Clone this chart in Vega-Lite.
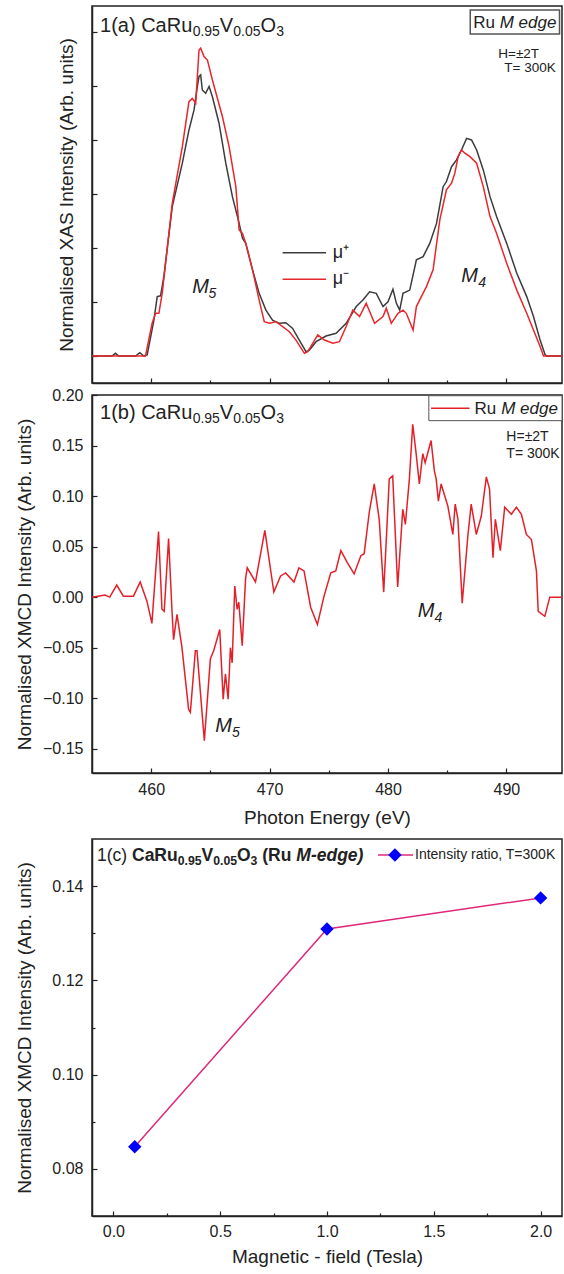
{
  "$schema": "https://vega.github.io/schema/vega-lite/v6.json",
  "padding": {"left": 14, "top": 5, "right": 0, "bottom": 0},
  "background": "white",
  "config": {
    "view": {"stroke": "#222", "strokeWidth": 1.5},
    "axis": {"grid": false, "domainColor": "#222", "domainWidth": 1.5, "tickColor": "#222", "tickWidth": 1.2, "tickSize": -5, "labelFont": "Liberation Sans", "labelFontSize": 16, "labelColor": "#222", "titleFont": "Liberation Sans", "titleFontSize": 19, "titleFontWeight": "normal", "titleColor": "#222"},
    "axisX": {"labelPadding": 13},
    "axisY": {"labelPadding": 14},
    "text": {"font": "Liberation Sans", "color": "#222"}
  },
  "datasets": {
    "xas": [
      {"E":455.00,"I":0,"pol":"μ+"},{"E":456.69,"I":0,"pol":"μ+"},{"E":456.98,"I":0.010,"pol":"μ+"},{"E":457.26,"I":0,"pol":"μ+"},{"E":458.67,"I":0,"pol":"μ+"},{"E":459.04,"I":0.012,"pol":"μ+"},{"E":459.38,"I":0,"pol":"μ+"},{"E":459.66,"I":0.004,"pol":"μ+"},{"E":460.23,"I":0.133,"pol":"μ+"},{"E":460.51,"I":0.220,"pol":"μ+"},{"E":460.79,"I":0.223,"pol":"μ+"},{"E":461.07,"I":0.294,"pol":"μ+"},{"E":461.78,"I":0.553,"pol":"μ+"},{"E":462.63,"I":0.714,"pol":"μ+"},{"E":463.19,"I":0.837,"pol":"μ+"},{"E":463.62,"I":0.911,"pol":"μ+"},{"E":463.90,"I":0.998,"pol":"μ+"},{"E":464.04,"I":1.035,"pol":"μ+"},{"E":464.18,"I":1.041,"pol":"μ+"},{"E":464.32,"I":0.985,"pol":"μ+"},{"E":464.60,"I":0.973,"pol":"μ+"},{"E":464.89,"I":0.998,"pol":"μ+"},{"E":465.17,"I":0.960,"pol":"μ+"},{"E":465.73,"I":0.862,"pol":"μ+"},{"E":466.30,"I":0.714,"pol":"μ+"},{"E":466.86,"I":0.590,"pol":"μ+"},{"E":467.43,"I":0.491,"pol":"μ+"},{"E":467.71,"I":0.436,"pol":"μ+"},{"E":467.99,"I":0.417,"pol":"μ+"},{"E":468.56,"I":0.319,"pol":"μ+"},{"E":469.12,"I":0.232,"pol":"μ+"},{"E":469.69,"I":0.170,"pol":"μ+"},{"E":470.25,"I":0.133,"pol":"μ+"},{"E":470.82,"I":0.121,"pol":"μ+"},{"E":471.38,"I":0.123,"pol":"μ+"},{"E":471.95,"I":0.102,"pol":"μ+"},{"E":472.51,"I":0.059,"pol":"μ+"},{"E":473.08,"I":0.016,"pol":"μ+"},{"E":473.36,"I":0.022,"pol":"μ+"},{"E":473.93,"I":0.053,"pol":"μ+"},{"E":474.77,"I":0.074,"pol":"μ+"},{"E":475.62,"I":0.084,"pol":"μ+"},{"E":476.47,"I":0.121,"pol":"μ+"},{"E":477.32,"I":0.183,"pol":"μ+"},{"E":477.88,"I":0.207,"pol":"μ+"},{"E":478.45,"I":0.238,"pol":"μ+"},{"E":479.01,"I":0.232,"pol":"μ+"},{"E":479.58,"I":0.183,"pol":"μ+"},{"E":480.00,"I":0.201,"pol":"μ+"},{"E":480.42,"I":0.247,"pol":"μ+"},{"E":480.71,"I":0.195,"pol":"μ+"},{"E":480.99,"I":0.170,"pol":"μ+"},{"E":481.27,"I":0.232,"pol":"μ+"},{"E":481.84,"I":0.244,"pol":"μ+"},{"E":482.40,"I":0.356,"pol":"μ+"},{"E":482.97,"I":0.368,"pol":"μ+"},{"E":483.53,"I":0.417,"pol":"μ+"},{"E":484.10,"I":0.491,"pol":"μ+"},{"E":484.66,"I":0.627,"pol":"μ+"},{"E":484.94,"I":0.646,"pol":"μ+"},{"E":485.37,"I":0.701,"pol":"μ+"},{"E":485.79,"I":0.726,"pol":"μ+"},{"E":486.21,"I":0.763,"pol":"μ+"},{"E":486.64,"I":0.806,"pol":"μ+"},{"E":487.06,"I":0.800,"pol":"μ+"},{"E":487.49,"I":0.763,"pol":"μ+"},{"E":488.05,"I":0.689,"pol":"μ+"},{"E":488.62,"I":0.590,"pol":"μ+"},{"E":489.18,"I":0.516,"pol":"μ+"},{"E":490.03,"I":0.417,"pol":"μ+"},{"E":490.88,"I":0.306,"pol":"μ+"},{"E":491.72,"I":0.220,"pol":"μ+"},{"E":492.29,"I":0.146,"pol":"μ+"},{"E":492.85,"I":0.059,"pol":"μ+"},{"E":493.28,"I":0.004,"pol":"μ+"},{"E":493.42,"I":0,"pol":"μ+"},{"E":494.70,"I":0,"pol":"μ+"},
      {"E":455.00,"I":0,"pol":"μ-"},{"E":459.52,"I":0,"pol":"μ-"},{"E":460.08,"I":0.121,"pol":"μ-"},{"E":460.37,"I":0.158,"pol":"μ-"},{"E":460.65,"I":0.158,"pol":"μ-"},{"E":460.93,"I":0.232,"pol":"μ-"},{"E":461.78,"I":0.565,"pol":"μ-"},{"E":462.63,"I":0.775,"pol":"μ-"},{"E":463.19,"I":0.942,"pol":"μ-"},{"E":463.47,"I":0.954,"pol":"μ-"},{"E":463.76,"I":0.936,"pol":"μ-"},{"E":464.04,"I":1.133,"pol":"μ-"},{"E":464.18,"I":1.140,"pol":"μ-"},{"E":464.46,"I":1.109,"pol":"μ-"},{"E":464.75,"I":1.096,"pol":"μ-"},{"E":465.17,"I":1.022,"pol":"μ-"},{"E":466.02,"I":0.886,"pol":"μ-"},{"E":466.58,"I":0.775,"pol":"μ-"},{"E":467.15,"I":0.627,"pol":"μ-"},{"E":467.43,"I":0.467,"pol":"μ-"},{"E":467.71,"I":0.454,"pol":"μ-"},{"E":467.99,"I":0.417,"pol":"μ-"},{"E":468.56,"I":0.319,"pol":"μ-"},{"E":469.12,"I":0.207,"pol":"μ-"},{"E":469.55,"I":0.127,"pol":"μ-"},{"E":469.97,"I":0.121,"pol":"μ-"},{"E":470.54,"I":0.127,"pol":"μ-"},{"E":471.10,"I":0.109,"pol":"μ-"},{"E":471.67,"I":0.090,"pol":"μ-"},{"E":472.23,"I":0.059,"pol":"μ-"},{"E":472.94,"I":0.010,"pol":"μ-"},{"E":473.22,"I":0.016,"pol":"μ-"},{"E":473.64,"I":0.047,"pol":"μ-"},{"E":474.07,"I":0.078,"pol":"μ-"},{"E":474.63,"I":0.059,"pol":"μ-"},{"E":475.34,"I":0.047,"pol":"μ-"},{"E":475.90,"I":0.053,"pol":"μ-"},{"E":476.47,"I":0.109,"pol":"μ-"},{"E":477.03,"I":0.170,"pol":"μ-"},{"E":477.60,"I":0.146,"pol":"μ-"},{"E":478.16,"I":0.195,"pol":"μ-"},{"E":478.87,"I":0.121,"pol":"μ-"},{"E":479.58,"I":0.146,"pol":"μ-"},{"E":479.86,"I":0.177,"pol":"μ-"},{"E":480.28,"I":0.121,"pol":"μ-"},{"E":480.85,"I":0.158,"pol":"μ-"},{"E":481.27,"I":0.170,"pol":"μ-"},{"E":481.55,"I":0.158,"pol":"μ-"},{"E":482.12,"I":0.096,"pol":"μ-"},{"E":482.40,"I":0.183,"pol":"μ-"},{"E":482.82,"I":0.220,"pol":"μ-"},{"E":483.25,"I":0.257,"pol":"μ-"},{"E":483.81,"I":0.319,"pol":"μ-"},{"E":484.38,"I":0.504,"pol":"μ-"},{"E":484.94,"I":0.615,"pol":"μ-"},{"E":485.37,"I":0.640,"pol":"μ-"},{"E":485.65,"I":0.677,"pol":"μ-"},{"E":485.93,"I":0.739,"pol":"μ-"},{"E":486.21,"I":0.763,"pol":"μ-"},{"E":486.50,"I":0.751,"pol":"μ-"},{"E":486.92,"I":0.738,"pol":"μ-"},{"E":487.49,"I":0.714,"pol":"μ-"},{"E":488.05,"I":0.627,"pol":"μ-"},{"E":488.62,"I":0.516,"pol":"μ-"},{"E":489.18,"I":0.454,"pol":"μ-"},{"E":490.03,"I":0.343,"pol":"μ-"},{"E":490.88,"I":0.244,"pol":"μ-"},{"E":491.72,"I":0.158,"pol":"μ-"},{"E":492.29,"I":0.096,"pol":"μ-"},{"E":492.85,"I":0.035,"pol":"μ-"},{"E":493.14,"I":0,"pol":"μ-"},{"E":494.70,"I":0,"pol":"μ-"}
    ],
    "xmcd": [
      {"E":455.00,"v":0.000},{"E":456.1,"v":0.002},{"E":456.5,"v":0.000},{"E":457.09,"v":0.012},{"E":457.65,"v":0.001},{"E":458.50,"v":0.001},{"E":459.07,"v":0.015},{"E":459.64,"v":-0.004},{"E":460.06,"v":-0.026},{"E":460.62,"v":0.065},{"E":460.91,"v":-0.012},{"E":461.10,"v":-0.014},{"E":461.47,"v":0.058},{"E":461.75,"v":-0.012},{"E":461.89,"v":-0.042},{"E":462.18,"v":-0.017},{"E":462.60,"v":-0.050},{"E":463.16,"v":-0.111},{"E":463.31,"v":-0.114},{"E":463.73,"v":-0.053},{"E":463.87,"v":-0.053},{"E":464.49,"v":-0.142},{"E":465.00,"v":-0.061},{"E":465.28,"v":-0.053},{"E":465.79,"v":-0.032},{"E":466.08,"v":-0.101},{"E":466.27,"v":-0.076},{"E":466.50,"v":-0.101},{"E":466.69,"v":-0.050},{"E":466.84,"v":-0.065},{"E":467.06,"v":0.011},{"E":467.26,"v":-0.012},{"E":467.40,"v":-0.005},{"E":467.69,"v":-0.048},{"E":467.97,"v":0.018},{"E":468.11,"v":0.029},{"E":468.81,"v":0.015},{"E":469.60,"v":0.066},{"E":470.36,"v":0.005},{"E":470.93,"v":0.021},{"E":471.36,"v":0.024},{"E":472.06,"v":0.015},{"E":472.48,"v":0.029},{"E":472.91,"v":0.026},{"E":473.47,"v":-0.010},{"E":474.04,"v":-0.027},{"E":474.60,"v":0.001},{"E":475.17,"v":0.024},{"E":475.59,"v":0.026},{"E":476.02,"v":0.046},{"E":476.58,"v":0.034},{"E":477.14,"v":0.023},{"E":477.71,"v":0.041},{"E":477.99,"v":0.043},{"E":478.42,"v":0.084},{"E":478.84,"v":0.112},{"E":479.26,"v":0.077},{"E":479.64,"v":0.005},{"E":480.11,"v":0.117},{"E":480.40,"v":0.120},{"E":480.82,"v":0.010},{"E":481.25,"v":0.087},{"E":481.47,"v":0.072},{"E":481.81,"v":0.117},{"E":482.09,"v":0.171},{"E":482.37,"v":0.143},{"E":482.65,"v":0.112},{"E":482.94,"v":0.142},{"E":483.14,"v":0.133},{"E":483.64,"v":0.155},{"E":483.92,"v":0.125},{"E":484.07,"v":0.117},{"E":484.26,"v":0.095},{"E":484.49,"v":0.112},{"E":485.06,"v":0.090},{"E":485.48,"v":0.062},{"E":485.68,"v":0.092},{"E":485.91,"v":0.077},{"E":486.27,"v":-0.006},{"E":486.75,"v":0.061},{"E":487.03,"v":0.092},{"E":487.46,"v":0.062},{"E":487.88,"v":0.080},{"E":488.31,"v":0.119},{"E":488.58,"v":0.107},{"E":488.87,"v":0.039},{"E":489.07,"v":0.077},{"E":489.49,"v":0.046},{"E":489.86,"v":0.089},{"E":490.42,"v":0.082},{"E":490.85,"v":0.089},{"E":491.27,"v":0.082},{"E":491.69,"v":0.062},{"E":492.12,"v":0.057},{"E":492.54,"v":0.026},{"E":492.69,"v":-0.014},{"E":493.25,"v":-0.019},{"E":493.67,"v":0.000},{"E":494.70,"v":0.000}
    ],
    "ratio": [
      {"H":0.1,"r":0.0847},{"H":1.0,"r":0.1309},{"H":2.0,"r":0.1375}
    ]
  },
  "spacing": 10,
  "vconcat": [
    {
      "spacing": 1,
      "vconcat": [
        {
          "width": 470,
          "height": 377,
          "layer": [
            {
              "data": {"name": "xas"},
              "mark": {"type": "line", "strokeWidth": 1.5},
              "encoding": {
                "x": {"field": "E", "type": "quantitative", "scale": {"domain": [455, 494.7], "nice": false, "zero": false}, "axis": {"values": [460, 465, 470, 475, 480, 485, 490], "labels": false, "title": null, "tickSize": {"condition": {"test": "datum.value % 10 === 0", "value": -5}, "value": -3}}},
                "y": {"field": "I", "type": "quantitative", "scale": {"domain": [-0.1, 1.296], "nice": false, "zero": false}, "axis": {"values": [0, 0.1, 0.2, 0.3, 0.4, 0.5, 0.6, 0.7, 0.8, 0.9, 1.0, 1.1, 1.2], "labels": false, "title": "Normalised XAS Intensity (Arb. units)", "titleX": -26, "titleBaseline": "middle"}},
                "color": {"field": "pol", "type": "nominal", "scale": {"domain": ["μ+", "μ-"], "range": ["#3c3c3c", "#e8262b"]}, "legend": null}
              }
            },
            {"data": {"values": [{}]}, "mark": {"type": "rule", "color": "#3c3c3c", "strokeWidth": 1.5}, "encoding": {"x": {"datum": 471.1}, "x2": {"datum": 474.77}, "y": {"datum": 0.3826}}},
            {"data": {"values": [{}]}, "mark": {"type": "rule", "color": "#e8262b", "strokeWidth": 1.5}, "encoding": {"x": {"datum": 471.1}, "x2": {"datum": 474.77}, "y": {"datum": 0.284}}},
            {"data": {"values": [{}]}, "mark": {"type": "text", "text": "μ⁺", "fontSize": 18, "align": "left", "baseline": "middle"}, "encoding": {"x": {"datum": 475.34}, "y": {"datum": 0.3826}}},
            {"data": {"values": [{}]}, "mark": {"type": "text", "text": "μ⁻", "fontSize": 18, "align": "left", "baseline": "middle"}, "encoding": {"x": {"datum": 475.34}, "y": {"datum": 0.284}}},
            {"data": {"values": [{}]}, "mark": {"type": "text", "text": "M", "fontSize": 20, "fontStyle": "italic", "align": "left", "baseline": "alphabetic"}, "encoding": {"x": {"datum": 463.47}, "y": {"datum": 0.233}}},
            {"data": {"values": [{}]}, "mark": {"type": "text", "text": "5", "fontSize": 14, "fontStyle": "italic", "align": "left", "baseline": "alphabetic", "dy": 5}, "encoding": {"x": {"datum": 464.83}, "y": {"datum": 0.233}}},
            {"data": {"values": [{}]}, "mark": {"type": "text", "text": "M", "fontSize": 20, "fontStyle": "italic", "align": "left", "baseline": "alphabetic"}, "encoding": {"x": {"datum": 486.19}, "y": {"datum": 0.275}}},
            {"data": {"values": [{}]}, "mark": {"type": "text", "text": "4", "fontSize": 14, "fontStyle": "italic", "align": "left", "baseline": "alphabetic", "dy": 5}, "encoding": {"x": {"datum": 487.63}, "y": {"datum": 0.275}}},
            {"data": {"values": [{}]}, "mark": {"type": "text", "text": "1(a) CaRu", "fontSize": 20, "align": "left", "baseline": "alphabetic"}, "encoding": {"x": {"datum": 455.68}, "y": {"datum": 1.201}}},
            {"data": {"values": [{}]}, "mark": {"type": "text", "text": "0.95", "fontSize": 14, "align": "left", "baseline": "alphabetic", "dy": 4}, "encoding": {"x": {"datum": 463.5}, "y": {"datum": 1.201}}},
            {"data": {"values": [{}]}, "mark": {"type": "text", "text": "V", "fontSize": 20, "align": "left", "baseline": "alphabetic"}, "encoding": {"x": {"datum": 465.8}, "y": {"datum": 1.201}}},
            {"data": {"values": [{}]}, "mark": {"type": "text", "text": "0.05", "fontSize": 14, "align": "left", "baseline": "alphabetic", "dy": 4}, "encoding": {"x": {"datum": 466.93}, "y": {"datum": 1.201}}},
            {"data": {"values": [{}]}, "mark": {"type": "text", "text": "O", "fontSize": 20, "align": "left", "baseline": "alphabetic"}, "encoding": {"x": {"datum": 469.24}, "y": {"datum": 1.201}}},
            {"data": {"values": [{}]}, "mark": {"type": "text", "text": "3", "fontSize": 14, "align": "left", "baseline": "alphabetic", "dy": 4}, "encoding": {"x": {"datum": 470.56}, "y": {"datum": 1.201}}},
            {"data": {"values": [{}]}, "mark": {"type": "rect", "fill": "white", "stroke": "#555", "strokeWidth": 1.5}, "encoding": {"x": {"datum": 486.95}, "x2": {"datum": 494.49}, "y": {"datum": 1.2815}, "y2": {"datum": 1.1926}}},
            {"data": {"values": [{}]}, "mark": {"type": "text", "text": "Ru", "fontSize": 17, "align": "left", "baseline": "alphabetic"}, "encoding": {"x": {"datum": 487.2}, "y": {"datum": 1.2148}}},
            {"data": {"values": [{}]}, "mark": {"type": "text", "text": "M edge", "fontSize": 17, "fontStyle": "italic", "align": "left", "baseline": "alphabetic"}, "encoding": {"x": {"datum": 489.44}, "y": {"datum": 1.2148}}},
            {"data": {"values": [{}]}, "mark": {"type": "text", "text": "H=±2T", "fontSize": 13.5, "align": "left", "baseline": "middle"}, "encoding": {"x": {"datum": 489.32}, "y": {"datum": 1.119}}},
            {"data": {"values": [{}]}, "mark": {"type": "text", "text": "T= 300K", "fontSize": 13.5, "align": "left", "baseline": "middle"}, "encoding": {"x": {"datum": 489.83}, "y": {"datum": 1.067}}}
          ]
        },
        {
          "width": 470,
          "height": 378,
          "layer": [
            {
              "data": {"name": "xmcd"},
              "mark": {"type": "line", "color": "#e3202a", "strokeWidth": 1.5},
              "encoding": {
                "x": {"field": "E", "type": "quantitative", "scale": {"domain": [455, 494.7], "nice": false, "zero": false}, "axis": {"values": [460, 465, 470, 475, 480, 485, 490], "labelExpr": "datum.value % 10 === 0 ? datum.label : ''", "title": "Photon Energy (eV)", "titleY": 44, "titleBaseline": "middle", "tickSize": {"condition": {"test": "datum.value % 10 === 0", "value": -5}, "value": -3}}},
                "y": {"field": "v", "type": "quantitative", "scale": {"domain": [-0.174, 0.2], "nice": false, "zero": false}, "axis": {"values": [-0.15, -0.125, -0.1, -0.075, -0.05, -0.025, 0, 0.025, 0.05, 0.075, 0.1, 0.125, 0.15, 0.175, 0.2], "format": ".2f", "labelExpr": "abs(datum.value*20 - round(datum.value*20)) < 0.001 ? datum.label : ''", "title": "Normalised XMCD Intensity (Arb. units)", "titleX": -68, "titleBaseline": "middle", "tickSize": {"condition": {"test": "abs(datum.value*20 - round(datum.value*20)) < 0.001", "value": -5}, "value": -3}}}
              }
            },
            {"data": {"values": [{}]}, "mark": {"type": "rect", "fill": "white", "stroke": "#555", "strokeWidth": 1}, "encoding": {"x": {"datum": 483.45}, "x2": {"datum": 494.7}, "y": {"datum": 0.1993}, "y2": {"datum": 0.1746}}},
            {"data": {"values": [{}]}, "mark": {"type": "rule", "color": "#e3202a", "strokeWidth": 1.5}, "encoding": {"x": {"datum": 483.64}, "x2": {"datum": 486.89}, "y": {"datum": 0.1868}}},
            {"data": {"values": [{}]}, "mark": {"type": "text", "text": "Ru", "fontSize": 17, "align": "left", "baseline": "alphabetic"}, "encoding": {"x": {"datum": 487.31}, "y": {"datum": 0.1812}}},
            {"data": {"values": [{}]}, "mark": {"type": "text", "text": "M edge", "fontSize": 17, "fontStyle": "italic", "align": "left", "baseline": "alphabetic"}, "encoding": {"x": {"datum": 489.56}, "y": {"datum": 0.1812}}},
            {"data": {"values": [{}]}, "mark": {"type": "text", "text": "H=±2T", "fontSize": 14, "align": "left", "baseline": "middle"}, "encoding": {"x": {"datum": 490.0}, "y": {"datum": 0.1584}}},
            {"data": {"values": [{}]}, "mark": {"type": "text", "text": "T= 300K", "fontSize": 14, "align": "left", "baseline": "middle"}, "encoding": {"x": {"datum": 490.0}, "y": {"datum": 0.1416}}},
            {"data": {"values": [{}]}, "mark": {"type": "text", "text": "1(b) CaRu", "fontSize": 20, "align": "left", "baseline": "alphabetic"}, "encoding": {"x": {"datum": 455.68}, "y": {"datum": 0.1762}}},
            {"data": {"values": [{}]}, "mark": {"type": "text", "text": "0.95", "fontSize": 14, "align": "left", "baseline": "alphabetic", "dy": 4}, "encoding": {"x": {"datum": 463.5}, "y": {"datum": 0.1762}}},
            {"data": {"values": [{}]}, "mark": {"type": "text", "text": "V", "fontSize": 20, "align": "left", "baseline": "alphabetic"}, "encoding": {"x": {"datum": 465.8}, "y": {"datum": 0.1762}}},
            {"data": {"values": [{}]}, "mark": {"type": "text", "text": "0.05", "fontSize": 14, "align": "left", "baseline": "alphabetic", "dy": 4}, "encoding": {"x": {"datum": 466.93}, "y": {"datum": 0.1762}}},
            {"data": {"values": [{}]}, "mark": {"type": "text", "text": "O", "fontSize": 20, "align": "left", "baseline": "alphabetic"}, "encoding": {"x": {"datum": 469.24}, "y": {"datum": 0.1762}}},
            {"data": {"values": [{}]}, "mark": {"type": "text", "text": "3", "fontSize": 14, "align": "left", "baseline": "alphabetic", "dy": 4}, "encoding": {"x": {"datum": 470.56}, "y": {"datum": 0.1762}}},
            {"data": {"values": [{}]}, "mark": {"type": "text", "text": "M", "fontSize": 20, "fontStyle": "italic", "align": "left", "baseline": "alphabetic"}, "encoding": {"x": {"datum": 465.42}, "y": {"datum": -0.1337}}},
            {"data": {"values": [{}]}, "mark": {"type": "text", "text": "5", "fontSize": 14, "fontStyle": "italic", "align": "left", "baseline": "alphabetic", "dy": 5}, "encoding": {"x": {"datum": 466.83}, "y": {"datum": -0.1337}}},
            {"data": {"values": [{}]}, "mark": {"type": "text", "text": "M", "fontSize": 20, "fontStyle": "italic", "align": "left", "baseline": "alphabetic"}, "encoding": {"x": {"datum": 482.52}, "y": {"datum": -0.0198}}},
            {"data": {"values": [{}]}, "mark": {"type": "text", "text": "4", "fontSize": 14, "fontStyle": "italic", "align": "left", "baseline": "alphabetic", "dy": 5}, "encoding": {"x": {"datum": 483.93}, "y": {"datum": -0.0198}}}
          ]
        }
      ]
    },
    {
      "width": 470,
      "height": 377,
      "layer": [
        {
          "data": {"name": "ratio"},
          "mark": {"type": "line", "color": "#e0287a", "strokeWidth": 1.5},
          "encoding": {
            "x": {"field": "H", "type": "quantitative", "scale": {"domain": [-0.1, 2.1], "nice": false, "zero": false}, "axis": {"values": [0, 0.25, 0.5, 0.75, 1.0, 1.25, 1.5, 1.75, 2.0], "format": ".1f", "labelPadding": 12, "labelExpr": "abs(datum.value*2 - round(datum.value*2)) < 0.001 ? datum.label : ''", "title": "Magnetic - field (Tesla)", "titleY": 40, "titleBaseline": "middle", "tickSize": {"condition": {"test": "abs(datum.value*2 - round(datum.value*2)) < 0.001", "value": -5}, "value": -3}}},
            "y": {"field": "r", "type": "quantitative", "scale": {"domain": [0.07, 0.15], "nice": false, "zero": false}, "axis": {"values": [0.08, 0.09, 0.1, 0.11, 0.12, 0.13, 0.14], "format": ".2f", "labelExpr": "abs(datum.value*50 - round(datum.value*50)) < 0.001 ? datum.label : ''", "title": "Normalised XMCD Intensity (Arb. units)", "titleX": -68, "titleBaseline": "middle", "tickSize": {"condition": {"test": "abs(datum.value*50 - round(datum.value*50)) < 0.001", "value": -5}, "value": -3}}}
          }
        },
        {
          "data": {"name": "ratio"},
          "mark": {"type": "point", "shape": "diamond", "filled": true, "color": "#0000ff", "size": 180, "opacity": 1},
          "encoding": {"x": {"field": "H", "type": "quantitative"}, "y": {"field": "r", "type": "quantitative"}}
        },
        {"data": {"values": [{}]}, "mark": {"type": "rule", "color": "#e0287a", "strokeWidth": 1.5}, "encoding": {"x": {"datum": 1.2387}, "x2": {"datum": 1.4025}, "y": {"datum": 0.1466}}},
        {"data": {"values": [{}]}, "mark": {"type": "point", "shape": "diamond", "filled": true, "color": "#0000ff", "size": 180, "opacity": 1}, "encoding": {"x": {"datum": 1.318}, "y": {"datum": 0.1466}}},
        {"data": {"values": [{}]}, "mark": {"type": "text", "text": "Intensity ratio, T=300K", "fontSize": 14, "align": "left", "baseline": "middle"}, "encoding": {"x": {"datum": 1.412}, "y": {"datum": 0.1466}}},
        {"data": {"values": [{}]}, "mark": {"type": "text", "text": "1(c)", "fontSize": 17.5, "align": "left", "baseline": "alphabetic"}, "encoding": {"x": {"datum": -0.0766}, "y": {"datum": 0.1453}}},
        {"data": {"values": [{}]}, "mark": {"type": "text", "text": "CaRu", "fontSize": 17.5, "fontWeight": "bold", "align": "left", "baseline": "alphabetic"}, "encoding": {"x": {"datum": 0.0872}, "y": {"datum": 0.1453}}},
        {"data": {"values": [{}]}, "mark": {"type": "text", "text": "0.95", "fontSize": 12.25, "fontWeight": "bold", "align": "left", "baseline": "alphabetic", "dy": 4}, "encoding": {"x": {"datum": 0.3011}, "y": {"datum": 0.1453}}},
        {"data": {"values": [{}]}, "mark": {"type": "text", "text": "V", "fontSize": 17.5, "fontWeight": "bold", "align": "left", "baseline": "alphabetic"}, "encoding": {"x": {"datum": 0.4125}, "y": {"datum": 0.1453}}},
        {"data": {"values": [{}]}, "mark": {"type": "text", "text": "0.05", "fontSize": 12.25, "fontWeight": "bold", "align": "left", "baseline": "alphabetic", "dy": 4}, "encoding": {"x": {"datum": 0.4673}, "y": {"datum": 0.1453}}},
        {"data": {"values": [{}]}, "mark": {"type": "text", "text": "O", "fontSize": 17.5, "fontWeight": "bold", "align": "left", "baseline": "alphabetic"}, "encoding": {"x": {"datum": 0.5787}, "y": {"datum": 0.1453}}},
        {"data": {"values": [{}]}, "mark": {"type": "text", "text": "3", "fontSize": 12.25, "fontWeight": "bold", "align": "left", "baseline": "alphabetic", "dy": 4}, "encoding": {"x": {"datum": 0.6424}, "y": {"datum": 0.1453}}},
        {"data": {"values": [{}]}, "mark": {"type": "text", "text": "(Ru", "fontSize": 17.5, "fontWeight": "bold", "align": "left", "baseline": "alphabetic"}, "encoding": {"x": {"datum": 0.6971}, "y": {"datum": 0.1453}}},
        {"data": {"values": [{}]}, "mark": {"type": "text", "text": "M-edge)", "fontSize": 17.5, "fontWeight": "bold", "fontStyle": "italic", "align": "left", "baseline": "alphabetic"}, "encoding": {"x": {"datum": 0.8563}, "y": {"datum": 0.1453}}}
      ]
    }
  ]
}
